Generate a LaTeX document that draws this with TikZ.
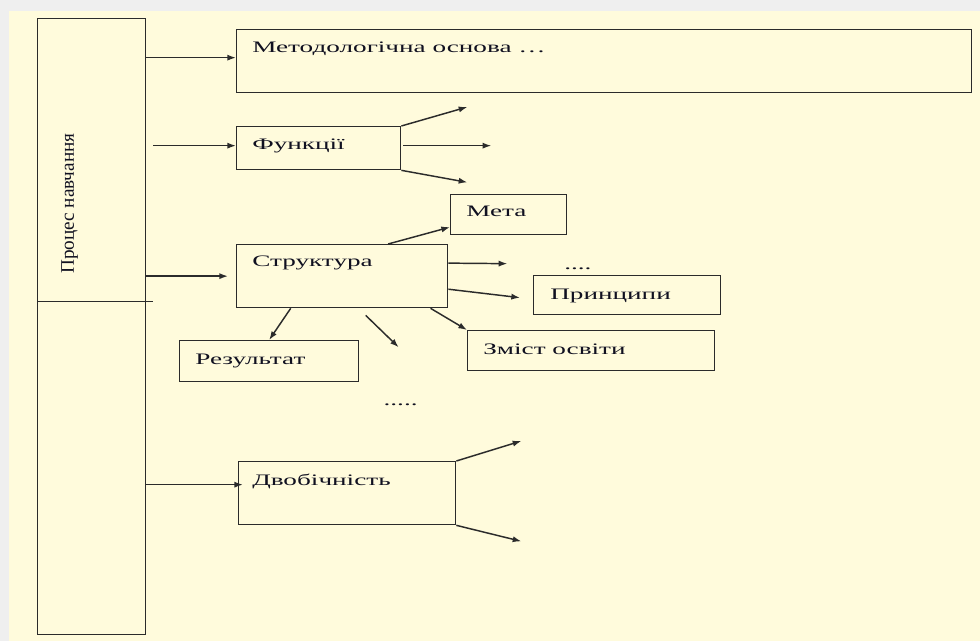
\documentclass[tikz,border=0pt]{standalone}
\usepackage{fontspec}
\setmainfont{Liberation Serif}
\usepackage{xcolor}
\usepackage{tikz}
\usetikzlibrary{arrows.meta}

\definecolor{fon}{HTML}{EFEFEF}
\definecolor{papir}{HTML}{FFFBDC}
\definecolor{liniya}{HTML}{2B2B2B}
\definecolor{tekst}{HTML}{101020}
\newcommand{\shyr}[1]{\scalebox{1.7}[1]{#1}}

\begin{document}
\begin{tikzpicture}[x=0.75pt, y=-0.75pt]
      \tikzstyle{blok}=[draw=liniya,line width=1pt,rectangle,anchor=north west,inner sep=0pt]
      \tikzstyle{rozmir}=[minimum width=#1*0.75pt]
      \tikzstyle{vys}=[minimum height=#1*0.75pt]
      \tikzstyle{napys}=[anchor=base west,inner sep=0pt,text=tekst,font=\fontsize{12}{14}\selectfont]
      \tikzstyle{strilka}=[draw=liniya,line width=1.1pt,-{Latex[length=6.5pt,width=4.6pt]}]
      \useasboundingbox (0,0) rectangle (980,641);
      \fill[fon] (0,0) rectangle (980,641);
      \fill[papir] (9,11) rectangle (980,641);
      % boxes
      \node[blok, rozmir=108, vys=616] (proc) at (37,18) {};
      \node[blok, rozmir=735, vys=63] (metod) at (236,29) {};
      \node[blok, rozmir=164, vys=43] (funk) at (236,126) {};
      \node[blok, rozmir=116, vys=40] (meta) at (450,194) {};
      \node[blok, rozmir=211, vys=63] (strukt) at (236,244) {};
      \node[blok, rozmir=187, vys=39] (pryn) at (533,275) {};
      \node[blok, rozmir=247, vys=40] (zmist) at (467,330) {};
      \node[blok, rozmir=179, vys=41] (rez) at (179,340) {};
      \node[blok, rozmir=217, vys=63] (dvob) at (238,461) {};
      % texts
      \node[napys] (metodN) at ([shift={(16,24)}]metod.north west) {\shyr{Методологічна основа \dots}};
      \node[napys] (funkN) at ([shift={(16,24)}]funk.north west) {\shyr{Функції}};
      \node[napys] (metaN) at ([shift={(16,23)}]meta.north west) {\shyr{Мета}};
      \node[napys] (struktN) at ([shift={(16,23)}]strukt.north west) {\shyr{Структура}};
      \node[napys] (prynN) at ([shift={(17,24)}]pryn.north west) {\shyr{Принципи}};
      \node[napys] (zmistN) at ([shift={(16,24)}]zmist.north west) {\shyr{Зміст освіти}};
      \node[napys] (rezN) at ([shift={(16,24)}]rez.north west) {\shyr{Результат}};
      \node[napys] (dvobN) at ([shift={(14,24)}]dvob.north west) {\shyr{Двобічність}};
      \node[napys] (krapky1) at ([shift={(31,-5)}]pryn.north west) {\shyr{....}};
      \node[napys] (krapky2) at ([shift={(24,65)}]rez.north east) {\shyr{.....}};
      \node[rotate=90, inner sep=0pt, text=tekst, font=\fontsize{14.4}{16}\selectfont] (procN)
        at ([shift={(-22,-123)}]proc.center) {Процес навчання};
      % free ends
      \coordinate (f1) at ([shift={(66,-19)}]funk.north east);
      \coordinate (f2) at ([shift={(90,-2.5)}]funk.east);
      \coordinate (f3) at ([shift={(66,12)}]funk.south east);
      \coordinate (s1) at ([shift={(59,-12.5)}]strukt.east);
      \coordinate (s2) at ([shift={(56.5,39)}]strukt.south);
      \coordinate (d1) at ([shift={(65,-20)}]dvob.north east);
      \coordinate (d2) at ([shift={(65,16)}]dvob.south east);
      % connectors
      \draw[draw=liniya, line width=1pt] ([shift={(0,-25)}]proc.west) -- ([shift={(7,-25)}]proc.east);
      \draw[strilka] ([shift={(0,-3.5)}]proc.east |- metod.west) -- ([shift={(0,-3.5)}]metod.west);
      \draw[strilka] ([shift={(7,-2.5)}]proc.east |- funk.west) -- ([shift={(0,-2.5)}]funk.west);
      \draw[strilka] (funk.north east) -- (f1);
      \draw[strilka] ([shift={(2,-2.5)}]funk.east) -- (f2);
      \draw[strilka] (funk.south east) -- (f3);
      \draw[strilka] (proc.east |- strukt.west) -- ([xshift=-6pt]strukt.west);
      \draw[strilka] (strukt.35) -- (meta.192);
      \draw[strilka] (strukt.7) -- (s1);
      \draw[strilka] (strukt.-7) -- ([shift={(-13,2.5)}]pryn.west);
      \draw[strilka] (strukt.-20) -- (zmist.north west);
      \draw[strilka] (strukt.212) -- (rez.north);
      \draw[strilka] ([shift={(23.5,7)}]strukt.south) -- (s2);
      \draw[strilka] ([shift={(0,-8.5)}]proc.east |- dvob.west) -- ([shift={(5,-8.5)}]dvob.west);
      \draw[strilka] (dvob.north east) -- (d1);
      \draw[strilka] (dvob.south east) -- (d2);
    \end{tikzpicture}
\end{document}
